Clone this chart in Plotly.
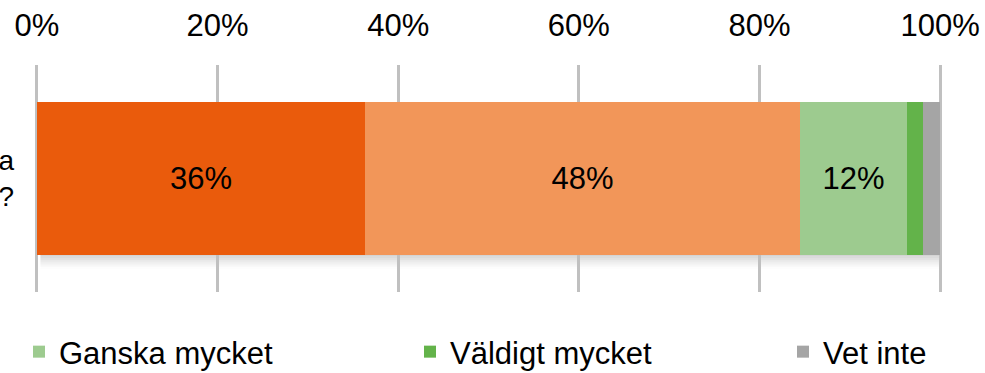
import plotly.graph_objects as go

# Survey answers, share of respondents (%)
question = ["Hur mycket intresserar du dig för politiska<br>frågor?"]
answers = ["Inte alls", "Ganska lite", "Ganska mycket", "Väldigt mycket", "Vet inte"]
shares = [36.3, 48.2, 11.8, 1.8, 1.9]
colors = ["#EA5B0C", "#F29659", "#9DCB8F", "#63B34A", "#A5A5A5"]
# legend group per answer (None = not listed in the legend row)
legend_ids = [None, None, "legend", "legend2", "legend3"]
legend_x_px = {"legend": 19, "legend2": 410, "legend3": 783}

tick_vals = [0, 20, 40, 60, 80, 100]
tick_text = ["0%", "20%", "40%", "60%", "80%", "100%"]

FONT = "Liberation Sans, Arial, sans-serif"
TEXT_SIZE = 31
BAR_WIDTH = 0.67
W, H = 985, 373

fig = go.Figure()

for name, val, col, leg in zip(answers, shares, colors, legend_ids):
    big = val >= 5
    fig.add_trace(go.Bar(
        y=question, x=[val], name=name, orientation="h",
        marker=dict(color=col, line=dict(width=0)),
        width=BAR_WIDTH,
        text=[f"{val:.0f}%" if big else ""],
        texttemplate="%{text}",
        textposition="inside" if big else "none",
        insidetextanchor="middle",
        textangle=0,
        textfont=dict(family=FONT, size=TEXT_SIZE, color="black"),
        showlegend=leg is not None,
        legend=leg if leg is not None else "legend",
        hoverinfo="skip",
    ))

# soft drop shadow under the stacked bar
total = sum(shares)
shadow_steps = 8
for i in range(shadow_steps):
    y_top = -BAR_WIDTH / 2 - i * 0.008
    fig.add_shape(
        type="rect", xref="x", yref="y",
        x0=0.4, x1=total + 0.3, y0=y_top - 0.008, y1=y_top,
        fillcolor="rgba(0,0,0,%.3f)" % (0.17 * (1 - i / shadow_steps) ** 1.4),
        line=dict(width=0), layer="below",
    )

legend_style = dict(
    orientation="h",
    xref="container", yref="container",
    xanchor="left",
    y=1 - 352 / H, yanchor="middle",
    font=dict(family=FONT, size=TEXT_SIZE, color="black"),
    itemclick=False, itemdoubleclick=False,
    bgcolor="rgba(0,0,0,0)",
)

fig.update_layout(
    barmode="stack",
    width=W, height=H,
    margin=dict(l=35, r=43, t=65, b=81, autoexpand=False),
    paper_bgcolor="white",
    plot_bgcolor="white",
    font=dict(family=FONT, size=TEXT_SIZE, color="black"),
    bargap=0,
    xaxis=dict(
        side="top",
        range=[-0.2, 100.2],
        tickvals=tick_vals, ticktext=tick_text,
        tickfont=dict(family=FONT, size=TEXT_SIZE, color="black"),
        showgrid=True, gridcolor="#C0C0C0", gridwidth=2.5,
        zeroline=False, showline=False, ticks="",
        ticklabelstandoff=22,
        fixedrange=True,
    ),
    yaxis=dict(
        range=[-0.5, 0.5],
        showgrid=False, zeroline=False, showline=False, ticks="",
        automargin=False,
        tickfont=dict(family=FONT, size=28, color="black"),
        ticklabelstandoff=20,
        fixedrange=True,
    ),
    legend=dict(legend_style, x=legend_x_px["legend"] / W),
    legend2=dict(legend_style, x=legend_x_px["legend2"] / W),
    legend3=dict(legend_style, x=legend_x_px["legend3"] / W),
)

fig.write_html("out.html")
